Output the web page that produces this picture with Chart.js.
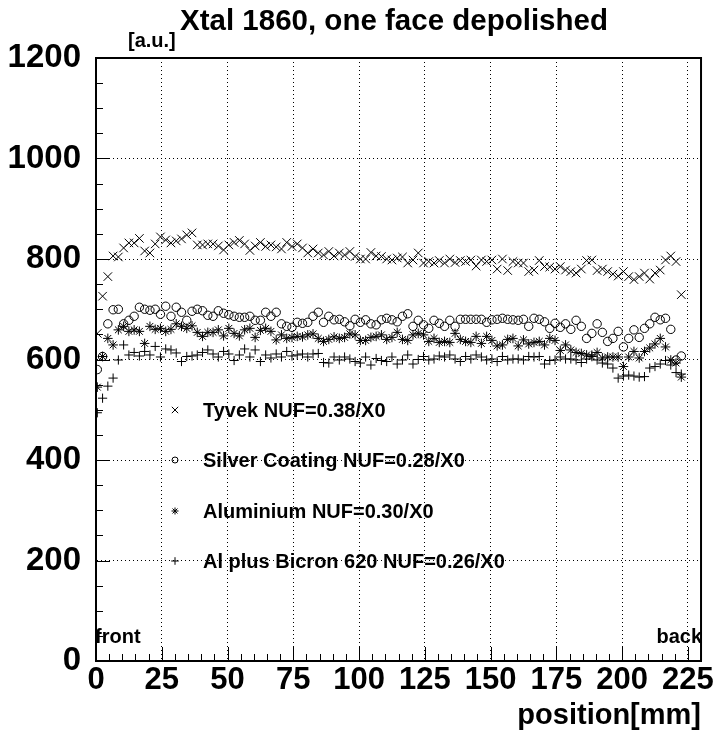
<!DOCTYPE html>
<html>
<head>
<meta charset="utf-8">
<script src="https://cdn.jsdelivr.net/npm/chart.js@4/dist/chart.umd.min.js"></script>
<style>
  html, body { margin: 0; padding: 0; background: #fff; }
  canvas { display: block; }
</style>
</head>
<body>
<canvas id="nufChart" width="715" height="732" style="width:715px;height:732px;"></canvas>
<script>
/* scan along the crystal - light yield vs. position */

const positions = [
    0.5, 2.5, 4.5, 6.5, 8.5, 10.5, 12.5, 14.5, 16.5, 18.5, 20.5, 22.5, 24.5, 26.5, 28.5, 30.5,
    32.5, 34.5, 36.5, 38.5, 40.5, 42.5, 44.5, 46.5, 48.5, 50.5, 52.5, 54.5, 56.5, 58.5, 60.5, 62.5,
    64.5, 66.5, 68.5, 70.5, 72.5, 74.5, 76.5, 78.5, 80.5, 82.5, 84.5, 86.5, 88.5, 90.5, 92.5, 94.5,
    96.5, 98.5, 100.5, 102.5, 104.5, 106.5, 108.5, 110.5, 112.5, 114.5, 116.5, 118.5, 120.5, 122.5, 124.5, 126.5,
    128.5, 130.5, 132.5, 134.5, 136.5, 138.5, 140.5, 142.5, 144.5, 146.5, 148.5, 150.5, 152.5, 154.5, 156.5, 158.5,
    160.5, 162.5, 164.5, 166.5, 168.5, 170.5, 172.5, 174.5, 176.5, 178.5, 180.5, 182.5, 184.5, 186.5, 188.5, 190.5,
    192.5, 194.5, 196.5, 198.5, 200.5, 202.5, 204.5, 206.5, 208.5, 210.5, 212.5, 214.5, 216.5, 218.5, 220.5, 222.5
];

const tyvek = [
    652, 726, 765, 806, 804, 822, 832, 832, 841, 816, 812, 830, 844, 838, 832, 836, 840, 848, 852, 828, 828, 830, 830,
    826, 818, 828, 833, 837, 830, 817, 826, 833, 825, 828, 824, 820, 833, 825, 830, 822, 812, 820, 812, 808, 815, 806,
    812, 808, 815, 805, 800, 800, 813, 806, 805, 800, 798, 802, 804, 792, 798, 812, 792, 795, 792, 797, 792, 800, 793, 797,
    795, 798, 786, 798, 795, 798, 780, 800, 777, 795, 792, 792, 775, 778, 797, 785, 784, 780, 785, 778, 775, 772, 780, 797,
    798, 777, 780, 775, 770, 766, 775, 765, 759, 765, 772, 760, 772, 778, 798, 806, 795, 729
];

const silver = [
    580, 606, 671, 699, 700, 671, 678, 686, 704, 700, 698, 700, 690, 706, 686, 704, 694, 678, 696, 700, 697, 688, 686,
    697, 692, 689, 686, 684, 684, 686, 678, 678, 694, 686, 694, 671, 666, 664, 674, 672, 674, 686, 694, 674, 686, 679,
    680, 675, 667, 680, 674, 679, 671, 669, 679, 682, 679, 675, 686, 691, 666, 678, 669, 662, 678, 672, 666, 678, 666, 680,
    680, 680, 680, 680, 674, 679, 680, 682, 680, 679, 678, 680, 666, 682, 680, 675, 662, 672, 664, 671, 660, 678, 666, 642,
    652, 671, 654, 636, 642, 656, 625, 642, 659, 644, 662, 671, 684, 679, 682, 660, 599, 607
];

const aluminium = [
    545, 606, 642, 629, 659, 666, 656, 659, 656, 632, 666, 660, 662, 656, 660, 671, 666, 662, 667, 654, 646, 654, 654,
    659, 647, 662, 652, 647, 659, 662, 644, 658, 662, 656, 639, 649, 642, 644, 646, 645, 649, 651, 642, 636, 640, 645,
    642, 644, 651, 649, 638, 638, 644, 646, 649, 640, 644, 654, 640, 638, 649, 652, 649, 636, 642, 634, 636, 634, 652, 640,
    636, 634, 646, 632, 646, 638, 627, 629, 640, 642, 627, 639, 631, 634, 636, 629, 642, 638, 618, 629, 619, 614, 612, 609,
    606, 614, 603, 605, 605, 605, 586, 605, 616, 603, 616, 623, 631, 642, 625, 599, 593, 565
];

const bicron = [
    494, 523, 547, 563, 599, 629, 609, 614, 607, 616, 609, 626, 605, 621, 619, 613, 596, 606, 607, 609, 614, 619, 611,
    605, 616, 611, 598, 609, 621, 605, 619, 596, 609, 603, 611, 605, 616, 607, 609, 611, 605, 611, 612, 594, 593, 605,
    599, 605, 601, 596, 593, 605, 589, 602, 598, 596, 605, 591, 599, 609, 591, 600, 606, 599, 601, 607, 605, 609, 601, 596,
    606, 601, 609, 605, 599, 601, 596, 606, 599, 601, 601, 599, 606, 605, 606, 591, 598, 599, 605, 601, 601, 599, 594, 601,
    609, 599, 593, 591, 583, 563, 567, 569, 567, 565, 566, 583, 586, 591, 598, 589, 574, 571
];

const seriesLabels = [
    'Tyvek NUF=0.38/X0',
    'Silver Coating NUF=0.28/X0',
    'Aluminium NUF=0.30/X0',
    'Al plus Bicron 620 NUF=0.26/X0'
];

const xTickValues = [0, 25, 50, 75, 100, 125, 150, 175, 200, 225];
const yTickValues = [0, 200, 400, 600, 800, 1000, 1200];

const FONT = "'Liberation Sans', Arial, Helvetica, sans-serif";

// marker look per series: ROOT style x, o, *, +
const markers = [
    { pointStyle: 'crossRot', radius: 6, legendRadius: 4.5 },
    { pointStyle: 'circle', radius: 4.2, legendRadius: 3 },
    { pointStyle: 'star', radius: 4.8, legendRadius: 3.5 },
    { pointStyle: 'cross', radius: 4.6, legendRadius: 3.8 }
];

function toPoints(vals) {
    return vals.map((v, i) => ({ x: positions[i], y: v }));
}

function buildDatasets() {
    const all = [tyvek, silver, aluminium, bicron];
    return all.map((vals, i) => ({
        label: seriesLabels[i],
        data: toPoints(vals),
        showLine: false,
        pointStyle: markers[i].pointStyle,
        pointRadius: markers[i].radius,
        pointBorderWidth: 1,
        pointBorderColor: '#000',
        pointBackgroundColor: 'rgba(0,0,0,0)',
        clip: 0
    }));
}

// frame, inward ticks, titles and the legend box
const decorPlugin = {
    id: 'decor',
    afterDraw(chart) {
        const c = chart.ctx;
        const a = chart.chartArea;
        const xs = chart.scales.x, ys = chart.scales.y;
        c.save();

        // frame top + right
        c.strokeStyle = '#000';
        c.lineWidth = 2;
        c.beginPath();
        c.moveTo(a.left, a.top);
        c.lineTo(a.right, a.top);
        c.lineTo(a.right, a.bottom);
        c.stroke();

        // inward ticks
        c.lineWidth = 1;
        c.beginPath();
        for (let v = 0; v <= 230; v += 5) {
            const px = Math.round(xs.getPixelForValue(v)) + 0.5;
            const len = v % 25 === 0 ? 14 : 7;
            c.moveTo(px, a.bottom);
            c.lineTo(px, a.bottom - len);
        }
        for (let v = 0; v <= 1200; v += 50) {
            const py = Math.round(ys.getPixelForValue(v)) + 0.5;
            const len = v % 200 === 0 ? 14 : 7;
            c.moveTo(a.left, py);
            c.lineTo(a.left + len, py);
        }
        c.stroke();

        c.fillStyle = '#000';
        c.textBaseline = 'alphabetic';

        // title
        c.font = 'bold 29.5px ' + FONT;
        c.textAlign = 'center';
        c.fillText('Xtal 1860, one face depolished', 394, 30);

        // axis titles
        c.font = 'bold 20px ' + FONT;
        c.textAlign = 'left';
        c.fillText('[a.u.]', 128, 47);
        c.font = 'bold 29px ' + FONT;
        c.textAlign = 'right';
        c.fillText('position[mm]', 701, 724);

        // front / back
        c.font = 'bold 20px ' + FONT;
        c.textAlign = 'left';
        c.fillText('front', 95, 643);
        c.textAlign = 'right';
        c.fillText('back', 702, 643);

        // legend
        const rowY = [410, 460, 511, 561];
        c.font = 'bold 20px ' + FONT;
        c.textAlign = 'left';
        c.textBaseline = 'middle';
        chart.data.datasets.forEach((ds, i) => {
            c.strokeStyle = '#000';
            c.fillStyle = 'rgba(0,0,0,0)';
            c.lineWidth = 1;
            Chart.helpers.drawPoint(c, {
                pointStyle: markers[i].pointStyle,
                radius: markers[i].legendRadius,
                rotation: 0,
                borderWidth: 1
            }, 175, rowY[i]);
            c.fillStyle = '#000';
            c.fillText(ds.label, 203, rowY[i] + 1);
        });

        c.restore();
    }
};

function initChart() {
    const canvas = document.getElementById('nufChart');
    new Chart(canvas, {
        type: 'scatter',
        data: { datasets: buildDatasets() },
        options: {
            responsive: false,
            animation: false,
            devicePixelRatio: 1,
            layout: { padding: { top: 58, right: 12, left: 0, bottom: 0 } },
            plugins: {
                legend: { display: false },
                tooltip: { enabled: false }
            },
            scales: {
                x: {
                    type: 'linear',
                    min: 0,
                    max: 230,
                    afterBuildTicks: s => { s.ticks = xTickValues.map(v => ({ value: v })); },
                    afterFit: s => { s.height = 71; },
                    ticks: {
                        color: '#000',
                        padding: 1,
                        maxRotation: 0,
                        autoSkip: false,
                        callback: v => String(v),
                        font: { family: FONT, size: 31, weight: 'bold' }
                    },
                    grid: { color: '#000', lineWidth: 1, drawTicks: false },
                    border: { color: '#000', width: 2, dash: [1, 3] }
                },
                y: {
                    min: 0,
                    max: 1200,
                    afterBuildTicks: s => { s.ticks = yTickValues.map(v => ({ value: v })); },
                    afterFit: s => { s.width = 96; },
                    ticks: {
                        color: '#000',
                        padding: 15,
                        autoSkip: false,
                        callback: v => String(v),
                        font: { family: FONT, size: 33, weight: 'bold' }
                    },
                    grid: { color: '#000', lineWidth: 1, drawTicks: false },
                    border: { color: '#000', width: 2, dash: [1, 3] }
                }
            }
        },
        plugins: [decorPlugin]
    });
}

document.addEventListener('DOMContentLoaded', initChart);
</script>
</body>
</html>
